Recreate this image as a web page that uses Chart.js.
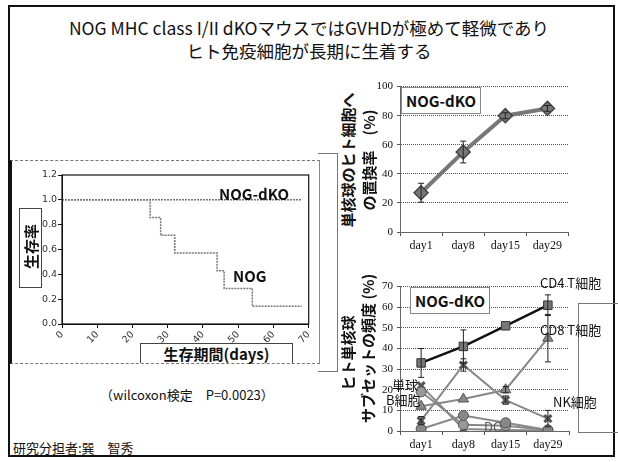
<!DOCTYPE html>
<html>
<head>
<meta charset="utf-8">
<script src="https://cdn.jsdelivr.net/npm/chart.js@4"></script>
<style>
  body { margin: 0; width: 618px; height: 462px; background: #fff; position: relative; overflow: hidden;
         font-family: "Noto Sans CJK JP", "Noto Sans", sans-serif; color: #111; }
  .abs { position: absolute; }
  .frame { left: 8px; top: 5px; width: 603px; height: 448px; border: 2px solid #111; }
  .title { left: 0; width: 618px; text-align: center; font-size: 17.5px; line-height: 22px; }
  .lbl { font-weight: bold; font-size: 15px; white-space: nowrap; }
  .vt { transform: rotate(-90deg); transform-origin: center center; white-space: nowrap; text-align: center; }
  .box { border: 1px solid #444; background: #fff; }
  .small { font-size: 13px; white-space: nowrap; }
  canvas { position: absolute; }
</style>
</head>
<body>
<div class="abs frame"></div>
<div class="abs title" style="top:17px;">NOG MHC class I/II dKOマウスではGVHDが極めて軽微であり</div>
<div class="abs title" style="top:40px;">ヒト免疫細胞が長期に生着する</div>

<!-- left panel frames -->
<div class="abs" style="left:10px;top:160px;width:307px;height:202px;border-top:1px dashed #777;border-bottom:1px dashed #777;border-left:2px solid #111;border-right:1px solid #888;"></div>
<!-- right panel y-title frames -->
<div class="abs" style="left:318px;top:153px;width:19px;height:217px;border-top:1px solid #777;border-right:1px solid #777;border-bottom:1px solid #777;"></div>
<div class="abs" style="left:578px;top:303px;width:40px;height:128px;border:1px solid #777;border-right:none;"></div>

<canvas id="survival" width="278" height="175" style="left:40px;top:168px;"></canvas>
<canvas id="replace" width="205" height="178" style="left:372px;top:76px;"></canvas>
<canvas id="subset" width="205" height="177" style="left:372px;top:276px;"></canvas>

<!-- survival chart labels -->
<div class="abs box lbl" style="left:19px;top:208px;width:21px;height:78px;"></div>
<div class="abs lbl vt" style="left:-9px;top:236px;width:78px;height:21px;line-height:21px;">生存率</div>
<div class="abs lbl" style="left:140px;top:343px;width:151px;height:19px;line-height:19px;text-align:center;border:1px solid #444;border-bottom:none;background:#fff;">生存期間(days)</div>
<div class="abs lbl" style="left:219px;top:183px;">NOG-dKO</div>
<div class="abs lbl" style="left:233px;top:265px;">NOG</div>
<div class="abs small" style="left:100px;top:385px;">（wilcoxon検定　P=0.0023）</div>
<div class="abs small" style="left:13px;top:438px;">研究分担者:巽　智秀</div>

<!-- top right labels -->
<div class="abs lbl vt" style="left:268px;top:150px;width:160px;height:20px;line-height:20px;">単核球のヒト細胞へ</div>
<div class="abs lbl vt" style="left:289px;top:150px;width:160px;height:20px;line-height:20px;">の置換率　(%)</div>
<div class="abs box lbl" style="left:401px;top:87px;width:78px;height:25px;line-height:25px;text-align:center;border-color:#888;">NOG-dKO</div>

<!-- bottom right labels -->
<div class="abs lbl vt" style="left:278px;top:343px;width:140px;height:20px;line-height:20px;">ヒト単核球</div>
<div class="abs lbl vt" style="left:298px;top:343px;width:140px;height:20px;line-height:20px;">サブセットの頻度 (%)</div>
<div class="abs box lbl" style="left:410px;top:287px;width:78px;height:25px;line-height:25px;text-align:center;border-color:#888;">NOG-dKO</div>
<div class="abs small" style="left:540px;top:273px;">CD4 T細胞</div>
<div class="abs small" style="left:540px;top:320px;">CD8 T細胞</div>
<div class="abs small" style="left:392px;top:375px;">単球</div>
<div class="abs small" style="left:386px;top:390px;">B細胞</div>
<div class="abs small" style="left:553px;top:392px;">NK細胞</div>
<div class="abs small" style="left:484px;top:417px;color:#555;">DC</div>

<script>
// ---- survival (Kaplan-Meier) ----
const dkoDays = [0, 68];
const dkoSurvival = [1.0, 1.0];
const nogDays = [0, 25, 28, 32, 44, 46, 54, 68];
const nogSurvival = [1.0, 0.857, 0.714, 0.571, 0.429, 0.286, 0.143, 0.143];

// ---- replacement rate ----
const days = ['day1', 'day8', 'day15', 'day29'];
const replaceRate = [27, 55, 80, 85];
const replaceErr = [6.5, 7.5, 2, 2];

// ---- subsets ----
const cd4 = [33, 41, 51, 61];
const cd4Err = [7, 8, 0, 5];
const cd8 = [12, 15.5, 20, 45];
const cd8Err = [0, 0, 1.5, 11.5];
const nk = [5, 32, 15, 6];
const nkErr = [2, 3, 2, 4];
const mono = [22, 1, 0.5, 0.3];
const bcell = [19, 3, 2.5, 0.5];
const dc = [1, 7.5, 4, 0.5];

const toXY = (xs, ys) => xs.map((x, i) => ({ x: x, y: ys[i] }));

const plotFrame = {
  id: 'plotFrame',
  afterDraw(chart) {
    const a = chart.chartArea, ctx = chart.ctx;
    ctx.save();
    ctx.strokeStyle = '#111';
    ctx.lineWidth = 1.2;
    ctx.strokeRect(a.left, a.top, a.right - a.left, a.bottom - a.top);
    ctx.restore();
  }
};

const errorBars = {
  id: 'errorBars',
  afterDatasetsDraw(chart) {
    const ctx = chart.ctx, y = chart.scales.y;
    chart.data.datasets.forEach((ds, di) => {
      if (!ds.errors) return;
      const meta = chart.getDatasetMeta(di);
      ctx.save();
      ctx.strokeStyle = '#222';
      ctx.lineWidth = 1;
      ds.errors.forEach((e, i) => {
        if (!e) return;
        const px = meta.data[i].x;
        const top = y.getPixelForValue(ds.data[i] + e);
        const bot = y.getPixelForValue(ds.data[i] - e);
        ctx.beginPath();
        ctx.moveTo(px, top); ctx.lineTo(px, bot);
        ctx.moveTo(px - 3, top); ctx.lineTo(px + 3, top);
        ctx.moveTo(px - 3, bot); ctx.lineTo(px + 3, bot);
        ctx.stroke();
      });
      ctx.restore();
    });
  }
};

new Chart(document.getElementById('survival'), {
  type: 'scatter',
  data: {
    datasets: [
      { data: toXY(dkoDays, dkoSurvival), showLine: true, stepped: 'before', borderColor: '#777',
        borderWidth: 1.5, borderDash: [2, 1], pointRadius: 0 },
      { data: toXY(nogDays, nogSurvival), showLine: true, stepped: 'before', borderColor: '#777',
        borderWidth: 1.5, borderDash: [2, 1], pointRadius: 0 }
    ]
  },
  options: {
    responsive: false, animation: false,
    layout: { padding: { top: 7, right: 8 } },
    plugins: { legend: { display: false }, tooltip: { enabled: false } },
    scales: {
      x: {
        type: 'linear', min: 0, max: 70,
        ticks: { stepSize: 5, color: '#333', font: { family: 'DejaVu Sans', size: 9.5 }, padding: 1 },
        grid: { drawOnChartArea: false, tickLength: 4, color: '#111' },
        border: { color: '#111' },
        afterFit: (s) => { s.height = 19; }
      },
      y: {
        min: 0, max: 1.2,
        ticks: { stepSize: 0.1, color: '#333', font: { family: 'DejaVu Sans', size: 9.5 }, padding: 1,
          callback: (v) => Math.round(v * 10) % 2 === 0 ? v.toFixed(1) : '' },
        grid: { drawOnChartArea: false, tickLength: 4, color: '#111' },
        border: { color: '#111' },
        afterFit: (s) => { s.width = 22; }
      }
    }
  },
  plugins: [plotFrame]
});

const serifTicks = { color: '#111', font: { family: 'Liberation Serif', size: 12 } };

function catScales(maxY) {
  return {
    x: {
      offset: true,
      ticks: serifTicks,
      grid: { offset: true, drawOnChartArea: false, tickLength: 4, color: '#555' },
      border: { color: '#666', dash: [1, 1] },
      afterFit: (s) => { s.height = 22; }
    },
    y: {
      min: 0, max: maxY,
      ticks: { stepSize: 10, padding: 4, color: '#111', font: { family: 'Liberation Serif', size: 11 } },
      grid: { color: '#555', tickLength: 3 },
      border: { color: '#666', dash: [1, 1] },
      afterFit: (s) => { s.width = 28; }
    }
  };
}

new Chart(document.getElementById('replace'), {
  type: 'line',
  data: {
    labels: days,
    datasets: [{
      data: replaceRate, errors: replaceErr,
      borderColor: '#777', borderWidth: 4,
      pointStyle: 'rectRot', pointRadius: 7, pointBackgroundColor: '#777', pointBorderColor: '#444', pointBorderWidth: 1.5
    }]
  },
  options: {
    responsive: false, animation: false,
    layout: { padding: { top: 8, right: 7 } },
    plugins: { legend: { display: false }, tooltip: { enabled: false } },
    scales: catScales(100)
  },
  plugins: [errorBars]
});

const grayLine = { borderColor: '#888', borderWidth: 2, pointBackgroundColor: '#888', pointBorderColor: '#555', pointBorderWidth: 1 };

new Chart(document.getElementById('subset'), {
  type: 'line',
  data: {
    labels: days,
    datasets: [
      Object.assign({}, grayLine, { data: dc, pointStyle: 'circle', pointRadius: 5, pointBackgroundColor: '#888' }),
      Object.assign({}, grayLine, { data: bcell, pointStyle: 'circle', pointRadius: 5, pointBackgroundColor: '#999' }),
      Object.assign({}, grayLine, { data: mono, pointStyle: 'crossRot', pointRadius: 5, pointBorderWidth: 3, pointBorderColor: '#555' }),
      Object.assign({}, grayLine, { data: nk, errors: nkErr, pointStyle: 'crossRot', pointRadius: 5, pointBorderWidth: 3, pointBorderColor: '#555' }),
      Object.assign({}, grayLine, { data: cd8, errors: cd8Err, pointStyle: 'triangle', pointRadius: 6 }),
      { data: cd4, errors: cd4Err, borderColor: '#111', borderWidth: 2.5, pointStyle: 'rect', pointRadius: 6,
        pointBackgroundColor: '#777', pointBorderColor: '#333', pointBorderWidth: 1 }
    ]
  },
  options: {
    responsive: false, animation: false,
    layout: { padding: { top: 7, right: 7 } },
    plugins: { legend: { display: false }, tooltip: { enabled: false } },
    scales: catScales(70)
  },
  plugins: [errorBars]
});
</script>
</body>
</html>
